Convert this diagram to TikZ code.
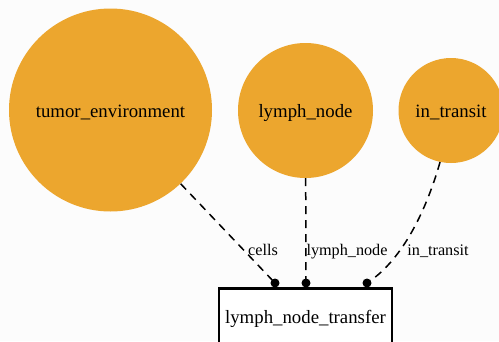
\documentclass[tikz,border=0pt]{standalone}
\usepackage{fontspec}
\setmainfont{Liberation Serif}
\newfontfamily\netfont{Liberation Serif}
\definecolor{bg}{RGB}{252,252,252}
\definecolor{blob}{RGB}{236,166,46}
\begin{document}
\begin{tikzpicture}[x=1pt,y=-1pt,
  place/.style={circle,fill=blob,draw=none,inner sep=0pt},
  bigtext/.style={anchor=base,inner sep=0pt,font=\netfont\fontsize{18.8}{20}\selectfont},
  proc/.style={draw=black,line width=2.6pt,fill=white,minimum width=173pt,minimum height=70pt,inner sep=0pt},
  link/.style={draw=black,line width=1.5pt,dash pattern=on 8pt off 6pt},
  tip/.style={circle,fill=black,inner sep=0pt,minimum size=9pt},
  elabel/.style={anchor=base,inner sep=0pt,font=\netfont\fontsize{16.2}{18}\selectfont}]
  \fill[bg] (0,0) rectangle (499,341);
  \useasboundingbox (0,0) rectangle (499,341);

  % places
  \node[place,minimum size=203pt] (te) at (110.5,110) {};
  \node[place,minimum size=135pt] (ln) at (305.5,110.5) {};
  \node[place,minimum size=105pt] (it) at (451,110.5) {};
  \node[bigtext] (tel) at (110.5,117) {tumor\_environment};
  \node[bigtext] (lnl) at (305.5,117.5) {lymph\_node};
  \node[bigtext] (itl) at (451,117) {in\_transit};

  % transition box
  \node[proc,anchor=north] (tr) at (305.5,287) {};
  \node[bigtext] (trl) at (305.5,323) {lymph\_node\_transfer};

  % arc end points on the box
  \coordinate (d1) at (275,283);
  \coordinate (d2) at (306,283);
  \coordinate (d3) at (367,283);

  % arcs
  \draw[link] (te) -- (d1);
  \draw[link] (ln) -- (d2);
  \draw[link] (it.-102) .. controls (425,215) and (400,262) .. (d3);

  \node[tip] (t1) at (d1) {};
  \node[tip] (t2) at (d2) {};
  \node[tip] (t3) at (d3) {};

  % arc labels
  \node[elabel] (l1) at (263,255) {cells};
  \node[elabel] (l2) at (347,255) {lymph\_node};
  \node[elabel] (l3) at (438,255) {in\_transit};
\end{tikzpicture}
\end{document}
